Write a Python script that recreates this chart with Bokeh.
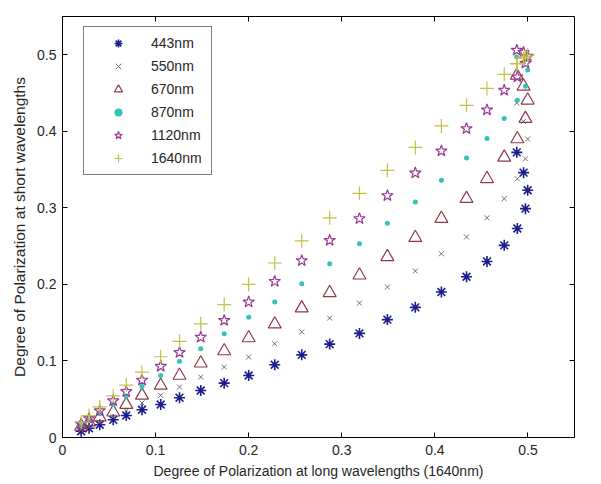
from bokeh.plotting import figure
from bokeh.models import (Range1d, FixedTicker, CustomJSTickFormatter, LinearAxis,
                          Legend, LegendItem, ColumnDataSource)
from bokeh.embed import file_html
from bokeh.resources import INLINE

# ---- data ----
x_1640 = [0.020, 0.0285, 0.040, 0.0545, 0.0685, 0.0854, 0.1055, 0.1257, 0.1485, 0.1737,
          0.200, 0.228, 0.257, 0.287, 0.319, 0.349, 0.379, 0.407, 0.434, 0.456,
          0.4745, 0.4886, 0.4973, 0.4997, 0.4953, 0.488]
y_443 = [0.0082, 0.012, 0.0166, 0.0231, 0.0288, 0.0362, 0.0431, 0.052, 0.0614, 0.071,
         0.081, 0.095, 0.108, 0.122, 0.136, 0.154, 0.170, 0.190, 0.210, 0.230,
         0.251, 0.273, 0.299, 0.323, 0.346, 0.3725]
y_550 = [0.010, 0.014, 0.020, 0.027, 0.035, 0.045, 0.055, 0.066, 0.079, 0.092,
         0.105, 0.1225, 0.138, 0.156, 0.1755, 0.1965, 0.2175, 0.240, 0.262, 0.287,
         0.312, 0.338, 0.364, 0.390, 0.413, 0.437]
y_670 = [0.0144, 0.020, 0.0265, 0.033, 0.043, 0.055, 0.068, 0.081, 0.097, 0.113,
         0.130, 0.148, 0.169, 0.189, 0.212, 0.236, 0.261, 0.286, 0.312, 0.338,
         0.366, 0.390, 0.4166, 0.4405, 0.4588, 0.473]
y_870 = [0.0157, 0.0224, 0.031, 0.043, 0.054, 0.0667, 0.081, 0.0997, 0.116, 0.1355,
         0.157, 0.177, 0.201, 0.227, 0.253, 0.280, 0.3076, 0.336, 0.365, 0.3905,
         0.4166, 0.4405, 0.4588, 0.480, 0.490, 0.497]
y_1120 = [0.0176, 0.025, 0.035, 0.048, 0.060, 0.075, 0.093, 0.111, 0.131, 0.153,
          0.177, 0.204, 0.231, 0.2575, 0.286, 0.316, 0.3455, 0.3743, 0.4035, 0.428,
          0.4536, 0.471, 0.489, 0.498, 0.503, 0.506]
y_1640 = [0.020, 0.0285, 0.040, 0.0545, 0.0685, 0.0854, 0.1055, 0.1257, 0.1485, 0.1737,
          0.200, 0.228, 0.257, 0.287, 0.319, 0.349, 0.379, 0.407, 0.434, 0.456,
          0.4745, 0.4886, 0.4973, 0.4997, 0.4953, 0.488]
labels = ["443nm", "550nm", "670nm", "870nm", "1120nm", "1640nm"]
ticks = [0, 0.1, 0.2, 0.3, 0.4, 0.5]

FONT = "Liberation Sans"
FS = "14px"
TXT = "#262626"

p = figure(width=601, height=484, output_backend="svg", toolbar_location=None,
           x_range=Range1d(0, 0.55), y_range=Range1d(0, 0.55),
           x_axis_location=None, y_axis_location=None,
           min_border_left=62, min_border_right=27, min_border_top=16, min_border_bottom=47)
p.outline_line_color = None
p.xgrid.visible = False
p.ygrid.visible = False
p.background_fill_color = "white"
p.border_fill_color = "white"

fmt = CustomJSTickFormatter(code="return tick == 0 ? '0' : tick.toFixed(1);")
blank = CustomJSTickFormatter(code="return '';")

def style(ax, show_labels=True):
    ax.ticker = FixedTicker(ticks=ticks)
    ax.axis_line_color = "black"
    ax.axis_line_width = 1
    ax.major_tick_in = 5
    ax.major_tick_out = 0
    ax.minor_tick_line_color = None
    ax.major_tick_line_color = "black"
    ax.major_label_text_font = FONT
    ax.major_label_text_font_size = FS
    ax.axis_label_text_font = FONT
    ax.axis_label_text_font_size = FS
    ax.axis_label_text_font_style = "normal"
    ax.axis_label_text_color = TXT
    if show_labels:
        ax.formatter = fmt
        ax.major_label_text_color = TXT
    else:
        ax.formatter = blank
        ax.major_label_text_color = None
        ax.major_label_standoff = 0

xb = LinearAxis(axis_label="Degree of Polarization at long wavelengths (1640nm)")
style(xb)
xb.major_label_standoff = 7
xb.axis_label_standoff = 5
p.add_layout(xb, "below")

yl = LinearAxis(axis_label="Degree of Polarization at short wavelengths")
style(yl)
yl.axis_label_text_font_size = "15.5px"
yl.major_label_standoff = 6
yl.axis_label_standoff = 6
p.add_layout(yl, "left")

xt = LinearAxis()
style(xt, show_labels=False)
p.add_layout(xt, "above")

yr = LinearAxis()
style(yr, show_labels=False)
p.add_layout(yr, "right")

src = ColumnDataSource(dict(x=x_1640, y443=y_443, y550=y_550, y670=y_670,
                            y870=y_870, y1120=y_1120, y1640=y_1640))

r1 = p.scatter("x", "y443", source=src, marker="asterisk", size=11,
               line_color="#1c1c8c", line_width=1.6)
r2 = p.scatter("x", "y550", source=src, marker="x", size=7,
               line_color="#707070", line_width=1)
r3 = p.scatter("x", "y670", source=src, marker="triangle", size=13,
               line_color="#8e3a48", fill_color=None, line_width=1.2)
r4 = p.scatter("x", "y870", source=src, marker="circle", size=5,
               fill_color="#33c4b8", line_color=None)
r5 = p.scatter("x", "y1120", source=src, marker="star", size=12,
               line_color="#9a3a96", fill_color=None, line_width=1.2)
r6 = p.scatter("x", "y1640", source=src, marker="cross", size=14,
               line_color="#c2c246", line_width=1.2)

items = [LegendItem(label=l, renderers=[r]) for l, r in zip(labels, [r1, r2, r3, r4, r5, r6])]
leg = Legend(items=items, location=(21, 262), margin=0, padding=6, spacing=3,
             glyph_width=56, glyph_height=20, label_height=20, label_width=54,
             label_standoff=5, border_line_color="black", border_line_width=1,
             background_fill_color="white", background_fill_alpha=1,
             label_text_font=FONT, label_text_font_size=FS, label_text_color=TXT)
p.add_layout(leg, "center")

open("out.html", "w").write(file_html(p, INLINE))
